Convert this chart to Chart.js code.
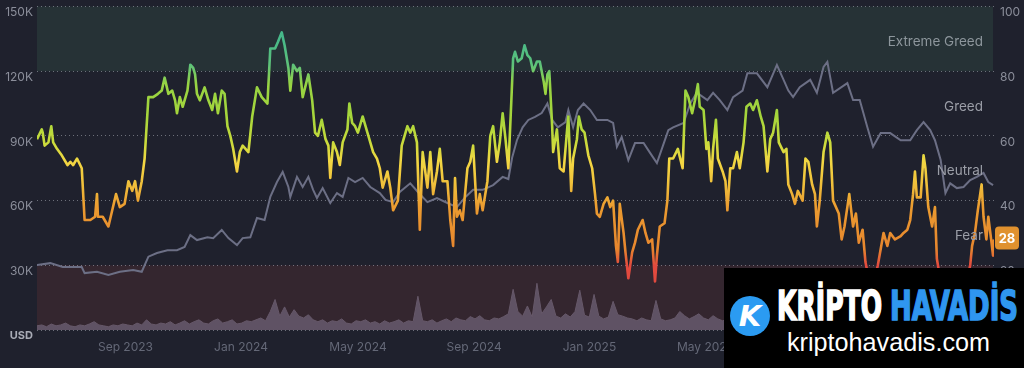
<!DOCTYPE html>
<html>
<head>
<meta charset="utf-8">
<script src="https://cdn.jsdelivr.net/npm/chart.js@4.4.1/dist/chart.umd.min.js"></script>
<style>
  html, body { margin: 0; padding: 0; background: #1f212d; overflow: hidden; }
  #wrap { position: relative; width: 1024px; height: 368px; }
  canvas { display: block; }
  #wm { position: absolute; left: 724px; top: 268px; width: 300px; height: 100px; background: #000; overflow: hidden; }
  #wm .logo { position: absolute; left: 6px; top: 28px; width: 40px; height: 40px; border-radius: 50%; background: #2b9bf2;
    color: #fff; font: italic bold 29px "DejaVu Sans", sans-serif; text-align: center; line-height: 40px; }
  #wm .brand { position: absolute; top: 18px; font: bold 41px "DejaVu Sans Condensed", "DejaVu Sans", sans-serif;
    line-height: 41px; display: inline-block; white-space: nowrap; transform-origin: 0 0;
    -webkit-text-stroke: 1.6px currentColor; }
  #wm .w { left: 53px; color: #fff; }
  #wm .b { left: 166px; color: #2f96ef; }
  #wm .url { position: absolute; left: 63px; top: 62px; font: 25px "Liberation Sans", Arial, sans-serif; line-height: 25px;
    color: #fff; display: inline-block; white-space: nowrap; transform-origin: 0 0; }
</style>
</head>
<body>
<div id="wrap">
  <canvas id="chart" width="1024" height="368"></canvas>
  <div id="wm">
    <div class="logo">K</div>
    <span class="brand w" data-w="105">KRİPTO</span>
    <span class="brand b" data-w="128">HAVADİS</span>
    <span class="url" data-w="203">kriptohavadis.com</span>
  </div>
</div>
<script>
// ============================
// Data (day 0 = 29 Jun 2023)
// ============================
const tickDays = [64, 186, 307, 430, 552, 672, 795, 917];
const tickLabels = ['Sep 2023', 'Jan 2024', 'May 2024', 'Sep 2024', 'Jan 2025', 'May 2025', 'Sep 2025', 'Jan 2026'];

const zoneNames = ['Extreme Greed', 'Greed', 'Neutral', 'Fear', 'Extreme Fear'];
const zoneMid = [90, 70, 50, 30, 10];

// Fear & Greed index
const fgDays = [0,5,6,8,12,15,17,21,26,32,35,38,42,47,50,56,61,63,64,69,75,79,83,87,92,96,100,103,106,110,113,117,122,127,131,134,138,142,145,147,150,153,158,161,164,166,168,171,176,180,184,187,190,194,197,200,203,206,210,213,216,222,226,231,236,242,245,250,253,257,260,264,266,269,273,276,279,285,289,292,295,299,303,306,308,311,315,318,321,326,328,331,334,337,342,347,350,353,357,360,363,368,371,374,379,383,389,392,395,399,402,405,410,413,416,420,423,426,431,434,437,439,441,444,447,452,455,458,462,465,468,473,476,479,483,486,489,492,495,498,500,502,505,509,512,515,518,521,525,528,532,534,536,538,541,542,546,549,553,557,558,561,563,567,569,572,575,579,583,586,588,591,595,599,602,605,608,610,612,616,618,621,625,628,631,636,639,642,646,649,651,654,659,662,664,668,673,678,681,684,688,691,694,696,700,703,705,708,710,713,715,720,723,725,728,731,735,738,742,745,749,752,756,760,763,767,770,773,777,779,784,787,789,793,796,799,804,807,810,814,817,819,822,826,830,833,836,842,845,848,853,857,860,863,867,870,874,877,883,889,893,896,901,907,910,914,917,920,922,924,928,931,933,936,940,943,945,949,954,959,965,970,975,980,982,985,988,992,994,997,999,1002,1004,1005];
const fgValues = [59,62,61,57,58,63,58,56,54,51,52,51,53,50,34,34,35,42,35,35,32,37,42,38,39,46,43,46,40,46,53,72,72,73,74,78,73,74,71,67,72,69,74,82,81,79,73,71,75,71,68,73,67,74,73,63,60,56,49,55,57,55,66,75,72,70,87,87,89,92,88,81,74,82,80,81,72,79,71,61,60,65,59,57,47,58,55,51,58,62,70,64,63,61,66,61,58,55,53,50,44,49,44,37,40,57,63,61,63,58,31,55,44,55,42,49,56,46,46,34,26,47,35,37,34,50,52,57,36,42,37,46,60,63,52,58,67,59,50,70,84,86,83,84,88,85,84,80,83,83,77,73,79,80,63,55,62,50,49,63,66,43,53,59,66,62,61,54,50,42,36,35,39,41,38,40,26,21,39,30,24,16,24,27,31,34,30,27,28,15,23,32,33,40,53,53,56,50,74,72,67,71,76,69,68,56,58,46,56,65,53,49,46,37,50,50,55,50,58,69,70,68,71,66,63,49,59,61,68,58,55,56,45,42,39,43,40,53,52,45,42,32,40,55,61,58,40,36,28,32,42,32,36,27,31,21,15,12,20,30,26,30,28,29,30,31,34,42,49,41,41,54,50,38,32,38,22,15,11,9,12,8,13,20,26,30,37,45,35,28,35,28,23,28];

// BTC price, thousands USD
const btcDays = [0,14,27,47,50,63,75,87,101,110,117,126,137,147,155,161,168,179,185,194,201,210,216,224,231,239,245,252,258,264,266,273,279,285,290,294,300,308,315,321,327,334,342,350,360,366,374,381,392,400,410,420,431,441,450,458,468,479,489,495,499,504,510,516,523,530,536,541,547,555,558,563,568,574,581,588,599,605,609,614,621,628,637,644,651,657,663,668,679,686,693,704,710,717,725,731,741,746,756,767,777,783,789,794,801,812,819,826,830,836,851,857,864,872,878,886,896,907,917,924,931,938,943,949,954,959,966,973,980,987,994,999,1004];
const btcValues = [30.1,31,29.2,29.2,26.4,27,25.5,27,27.8,27,34,35.7,37,37,38.5,44,41.7,43,42.6,46.4,42.6,39.4,42.6,43,51.9,51,61.7,68.6,73.3,66.3,61.7,71,66.3,71,65,61.2,65.8,58.9,63.5,61.7,70.5,68.6,70.5,66.3,63.5,60.3,59.3,64,68,64,59.3,61.2,58.9,57,61.7,65,65,67.2,71,70,80,88,94,97.4,98.8,100.6,105,97.4,94,96.4,102,94,102,105,102,97.4,97.4,96,85,89.5,78.8,86.7,86.7,82,77.4,85,92.7,94,96,105,110,106.6,110,106.6,102,108,111,119,119,112.6,122.9,117,111,108,112.6,116,110,122,124.3,110,114.5,106.6,106.6,94,85,91.3,91.3,88,88,92.7,96.4,92.7,88,78.8,63.5,68,65.8,66.3,69.5,71,72.8,68.6,67.2];

// Daily volume sampled every 5 days, billions USD
const volStepDays = 5;
const volValues = [9,11,7,13,9,11,15,9,7,11,9,13,18,11,9,7,11,9,13,11,9,15,11,
  22,13,11,15,13,18,11,15,20,13,18,22,15,13,20,24,15,18,22,13,15,20,18,22,26,20,
  40,66,30,50,28,44,30,26,33,22,
  18,22,15,20,18,24,15,13,20,18,22,15,18,13,20,15,18,22,15,20,18,73,20,18,22,15,
  20,24,18,26,22,20,29,24,31,22,20,26,24,29,35,
  88,40,30,52,28,101,35,50,66,30,26,35,28,40,86,32,28,77,30,24,28,62,33,30,26,24,20,26,22,20,64,24,20,
  22,26,40,31,24,29,35,26,22,31,24,20,
  22,18,26,20,24,31,22,18,20,26,29,22,20,35,44,26,22,20,24,29,31,40,26,22,24,20,18,22,26,31,
  44,35,29,26,24,22,20,26,29,24,22,35,40,48,31,26,24,22,20,26,31,35,29,26,24,22,20];

// ============================
// Colours
// ============================
const greedBand = '#263236';
const fearBand = '#34262f';
const tickColor = '#8b8e9a';
const fgStops = [
  [0, '#e0453f'], [0.2, '#e24a3e'], [0.25, '#e7862e'], [0.38, '#eb9b30'],
  [0.45, '#f0c03b'], [0.52, '#f3d743'], [0.58, '#c9db3c'], [0.66, '#a6d63b'],
  [0.76, '#97d343'], [0.82, '#5dc27a'], [0.9, '#47b989'], [1, '#3fb58f']
];

function pts(days, vals) {
  return days.map((d, i) => ({ x: d, y: vals[i] }));
}

function isZero(c) {
  return !!(c && c.tick && c.tick.value === 0);
}

function fgColor(ctx) {
  const chart = ctx.chart;
  if (!chart.chartArea) return '#f3d743';
  const y1 = chart.scales.y1;
  const g = chart.ctx.createLinearGradient(0, y1.getPixelForValue(0), 0, y1.getPixelForValue(100));
  fgStops.forEach(s => g.addColorStop(s[0], s[1]));
  return g;
}

// zones, zone labels and last value badge
const zonePlugin = {
  id: 'zones',
  beforeDraw(chart) {
    const { ctx, chartArea: a, scales: { y1 } } = chart;
    ctx.save();
    ctx.fillStyle = greedBand;
    const t = y1.getPixelForValue(100), g = y1.getPixelForValue(80);
    ctx.fillRect(a.left, t, a.width - 1, g - t);
    ctx.fillStyle = fearBand;
    const f = y1.getPixelForValue(20), b = y1.getPixelForValue(0);
    ctx.fillRect(a.left, f, a.width - 1, b - f);
    ctx.restore();
  },
  afterDatasetsDraw(chart) {
    const { ctx, chartArea: a, scales: { y1 } } = chart;
    ctx.save();
    ctx.font = '13.5px Inter, sans-serif';
    ctx.textAlign = 'right';
    ctx.textBaseline = 'middle';
    zoneNames.forEach((n, i) => {
      ctx.fillStyle = i === 0 ? '#8d969c' : '#9b9ea7';
      ctx.fillText(n, a.right - 11, y1.getPixelForValue(zoneMid[i]) + 3);
    });
    ctx.restore();
  },
  afterDraw(chart) {
    const { ctx, chartArea: a, scales: { y1 } } = chart;
    const last = fgValues[fgValues.length - 1];
    const cy = y1.getPixelForValue(last) - 1.5;
    ctx.save();
    ctx.fillStyle = '#e0912e';
    ctx.beginPath();
    if (ctx.roundRect) ctx.roundRect(a.right + 1, cy - 11.5, 24, 23, 4);
    else ctx.rect(a.right + 1, cy - 11.5, 24, 23);
    ctx.fill();
    ctx.fillStyle = '#fff';
    ctx.font = 'bold 13px Inter, sans-serif';
    ctx.textAlign = 'center';
    ctx.textBaseline = 'middle';
    ctx.fillText(String(last), a.right + 13, cy + 1);
    ctx.restore();
  }
};

const chart = new Chart(document.getElementById('chart'), {
  type: 'line',
  data: {
    datasets: [
      {
        label: 'Fear & Greed',
        data: pts(fgDays, fgValues),
        yAxisID: 'y1',
        borderColor: fgColor,
        borderWidth: 2.6,
        pointRadius: 0,
        tension: 0,
        borderJoinStyle: 'round',
        order: 1
      },
      {
        label: 'BTC',
        data: pts(btcDays, btcValues),
        yAxisID: 'y',
        borderColor: '#6c6f85',
        borderWidth: 2,
        pointRadius: 0,
        tension: 0,
        order: 2
      },
      {
        label: 'Volume',
        data: volValues.map((v, i) => ({ x: i * volStepDays, y: v })),
        yAxisID: 'yv',
        borderColor: '#665869',
        backgroundColor: '#5f5264',
        borderWidth: 1,
        fill: 'origin',
        pointRadius: 0,
        tension: 0,
        order: 3
      }
    ]
  },
  options: {
    responsive: false,
    animation: false,
    devicePixelRatio: 1,
    layout: { padding: { top: 6.5 } },
    plugins: { legend: { display: false }, tooltip: { enabled: false } },
    scales: {
      x: {
        type: 'linear',
        min: 0,
        max: 1005,
        grid: { display: false, drawTicks: false },
        border: { display: false },
        afterBuildTicks: s => { s.ticks = tickDays.map(v => ({ value: v })); },
        afterFit: s => { s.height = 38; s.paddingLeft = 0; s.paddingRight = 0; },
        ticks: {
          align: 'start',
          padding: 10,
          maxRotation: 0,
          autoSkip: false,
          color: '#646877',
          font: { family: 'Inter', size: 12 },
          callback: v => tickLabels[tickDays.indexOf(v)] || ''
        }
      },
      y: {
        position: 'left',
        min: 0,
        max: 150,
        grid: { color: 'rgba(205,208,218,0.45)', lineWidth: 1, drawTicks: false },
        border: { display: false, dash: [1, 3] },
        afterFit: s => { s.width = 37; s.paddingTop = 0; s.paddingBottom = 0; },
        ticks: {
          stepSize: 30,
          padding: 4,
          labelOffset: 6,
          color: c => isZero(c) ? '#a9acb6' : tickColor,
          font: c => isZero(c)
            ? { family: 'Inter', size: 11, weight: 'bold' }
            : { family: 'Inter', size: 12, weight: 'normal' },
          callback: v => v === 0 ? 'USD' : v + 'K'
        }
      },
      y1: {
        position: 'right',
        min: 0,
        max: 100,
        grid: { display: false, drawTicks: false },
        border: { display: false },
        afterFit: s => { s.width = 30; s.paddingTop = 0; s.paddingBottom = 0; },
        ticks: {
          stepSize: 20,
          padding: 6,
          labelOffset: 6,
          color: tickColor,
          font: { family: 'Inter', size: 12 }
        }
      },
      yv: {
        display: false,
        min: 0,
        max: 700
      }
    }
  },
  plugins: [zonePlugin]
});

// watermark text widths
document.querySelectorAll('#wm [data-w]').forEach(el => {
  const w = el.getBoundingClientRect().width;
  el.style.transform = 'scaleX(' + (Number(el.dataset.w) / w) + ')';
});
</script>
</body>
</html>
